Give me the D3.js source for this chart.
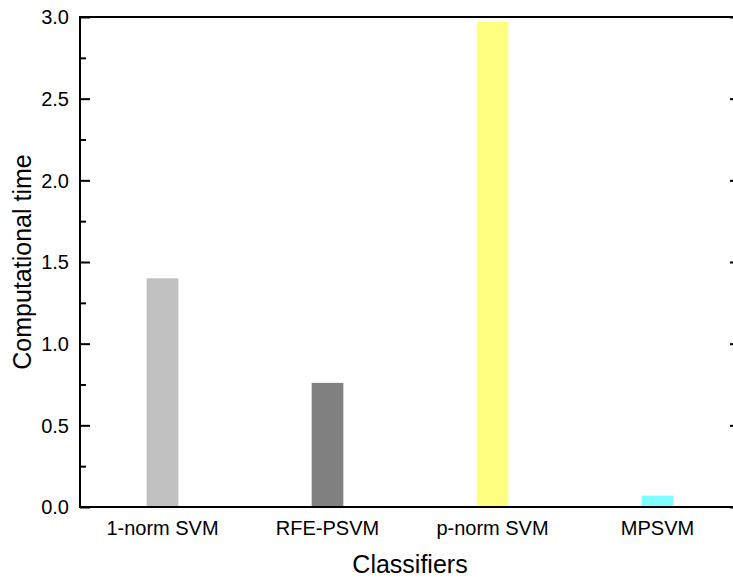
<!DOCTYPE html>
<html lang="en">
<head>
  <meta charset="UTF-8">
  <title>Computational time by classifier</title>
  <style>
    body { margin: 0; background: #fff; }
    svg text { font-family: "Liberation Sans", Arial, sans-serif; fill: #000; }
  </style>
</head>
<body>
  <svg id="chart" width="733" height="579"></svg>
  <script src="https://d3js.org/d3.v7.min.js"></script>
  <script>
    // data
    const classifiers = ["1-norm SVM", "RFE-PSVM", "p-norm SVM", "MPSVM"];
    const times = [1.40, 0.76, 2.97, 0.07];
    const barColors = ["#c0c0c0", "#808080", "#ffff80", "#80ffff"];
    const majorTicks = [0, 0.5, 1.0, 1.5, 2.0, 2.5, 3.0];
    const minorTicks = [0.25, 0.75, 1.25, 1.75, 2.25, 2.75];

    const svg = d3.select("#chart");
    const plotLeft = 80, plotRight = 740, plotTop = 17, plotBottom = 507;

    const x = d3.scalePoint()
      .domain(classifiers)
      .range([plotLeft, plotRight])
      .padding(0.5);
    const barW = x.step() * 0.192;

    const y = d3.scaleLinear()
      .domain([0, 3])
      .range([plotBottom, plotTop]);

    // bars
    svg.selectAll("rect.bar")
      .data(classifiers)
      .enter()
      .append("rect")
        .attr("class", "bar")
        .attr("x", d => x(d) - barW / 2)
        .attr("width", barW)
        .attr("y", (d, i) => y(times[i]))
        .attr("height", (d, i) => y(0) - y(times[i]))
        .attr("fill", (d, i) => barColors[i]);

    // inward ticks on left and right
    function ticks(axis, xPos) {
      svg.append("g")
        .attr("transform", `translate(${xPos},0)`)
        .call(axis)
        .call(g => g.select(".domain").remove())
        .call(g => g.selectAll("line").attr("stroke-width", 2));
    }
    ticks(d3.axisRight(y).tickValues(majorTicks).tickSize(10).tickFormat(""), plotLeft);
    ticks(d3.axisRight(y).tickValues(minorTicks).tickSize(6).tickFormat(""), plotLeft);
    ticks(d3.axisLeft(y).tickValues(majorTicks).tickSize(10).tickFormat(""), plotRight);
    ticks(d3.axisLeft(y).tickValues(minorTicks).tickSize(6).tickFormat(""), plotRight);

    // tick labels
    svg.selectAll("text.ylab")
      .data(majorTicks)
      .enter()
      .append("text")
        .attr("class", "ylab")
        .attr("x", plotLeft - 11)
        .attr("y", d => y(d))
        .attr("dy", "0.36em")
        .attr("text-anchor", "end")
        .style("font-size", "20px")
        .text(d => d.toFixed(1));

    // frame
    svg.append("rect")
      .attr("x", plotLeft)
      .attr("y", plotTop)
      .attr("width", plotRight - plotLeft)
      .attr("height", plotBottom - plotTop)
      .attr("fill", "none")
      .attr("stroke", "#000")
      .attr("stroke-width", 2);

    // category labels
    svg.selectAll("text.xlab")
      .data(classifiers)
      .enter()
      .append("text")
        .attr("class", "xlab")
        .attr("x", d => x(d))
        .attr("y", 535)
        .attr("text-anchor", "middle")
        .style("font-size", "20px")
        .text(d => d);

    // axis titles
    svg.append("text")
      .attr("x", (plotLeft + plotRight) / 2)
      .attr("y", 573)
      .attr("text-anchor", "middle")
      .style("font-size", "25px")
      .text("Classifiers");

    svg.append("text")
      .attr("transform", `translate(30.5,${(plotTop + plotBottom) / 2}) rotate(-90)`)
      .attr("text-anchor", "middle")
      .style("font-size", "25px")
      .text("Computational time");
  </script>
</body>
</html>
